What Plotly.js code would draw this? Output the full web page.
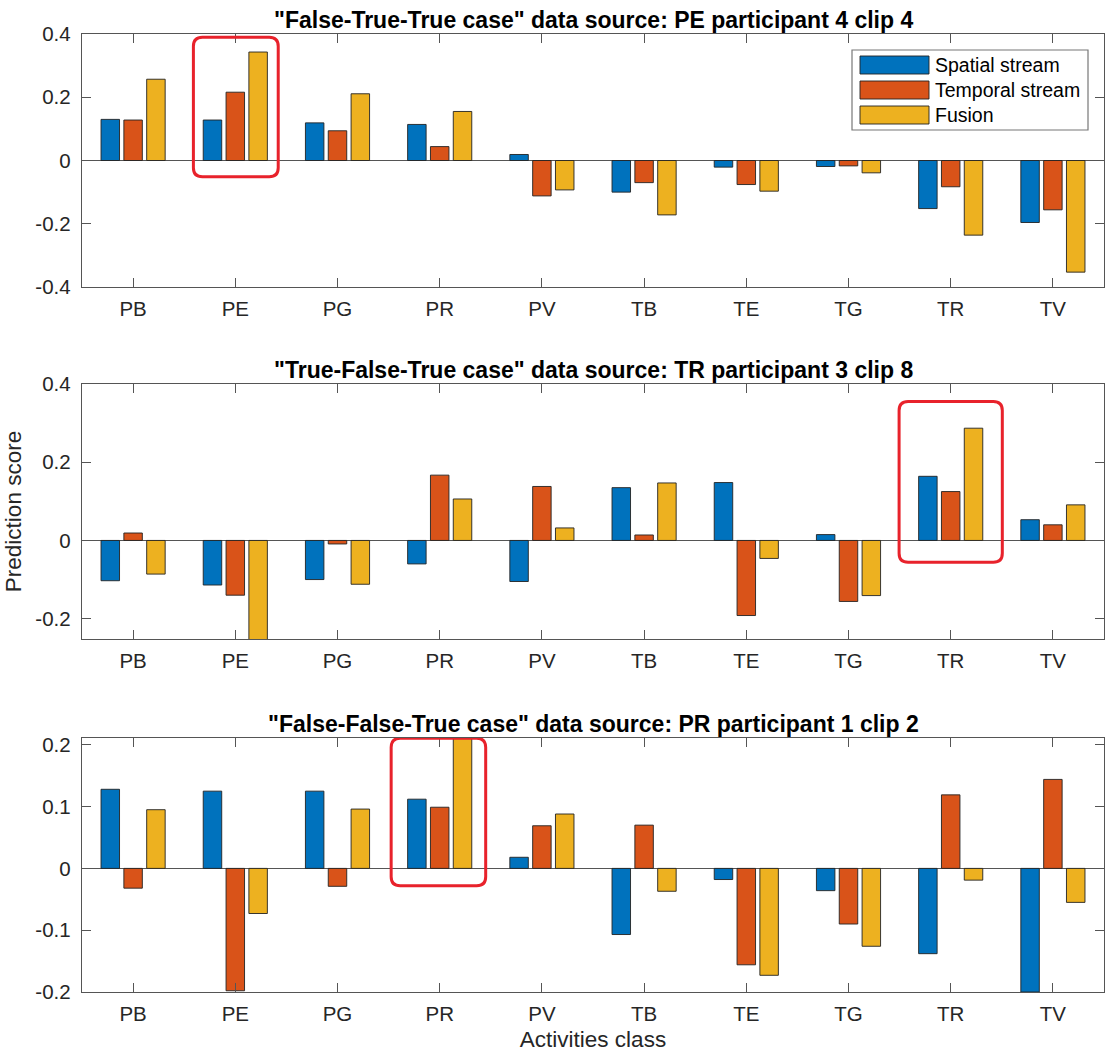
<!DOCTYPE html>
<html>
<head>
<meta charset="utf-8">
<script src="https://cdn.plot.ly/plotly-3.0.1.min.js"></script>
<style>html,body{margin:0;padding:0;background:#fff;}#chart{width:1105px;height:1057px;}</style>
</head>
<body>
<div id="chart"></div>
<script>
// ---- data ----
const categories = ['PB','PE','PG','PR','PV','TB','TE','TG','TR','TV'];
const seriesNames = ['Spatial stream','Temporal stream','Fusion'];
const panelTitles = [
  '"False-True-True case" data source: PE participant 4 clip 4',
  '"True-False-True case" data source: TR participant 3 clip 8',
  '"False-False-True case" data source: PR participant 1 clip 2'
];
const case1Spatial  = [0.130, 0.128, 0.119, 0.114, 0.019, -0.100, -0.021, -0.019, -0.152, -0.196];
const case1Temporal = [0.128, 0.216, 0.094, 0.044, -0.112, -0.070, -0.076, -0.017, -0.083, -0.156];
const case1Fusion   = [0.257, 0.343, 0.211, 0.155, -0.093, -0.172, -0.097, -0.039, -0.236, -0.353];
const case2Spatial  = [-0.103, -0.114, -0.100, -0.060, -0.105, 0.135, 0.148, 0.015, 0.164, 0.053];
const case2Temporal = [0.019, -0.140, -0.009, 0.167, 0.138, 0.014, -0.192, -0.156, 0.125, 0.040];
const case2Fusion   = [-0.086, -0.300, -0.112, 0.106, 0.032, 0.147, -0.046, -0.141, 0.287, 0.091];
const case3Spatial  = [0.128, 0.125, 0.125, 0.112, 0.018, -0.107, -0.018, -0.036, -0.138, -0.200];
const case3Temporal = [-0.032, -0.198, -0.029, 0.099, 0.069, 0.070, -0.156, -0.090, 0.119, 0.144];
const case3Fusion   = [0.095, -0.073, 0.096, 0.250, 0.088, -0.037, -0.173, -0.126, -0.019, -0.055];
const yTicks1 = [-0.4, -0.2, 0, 0.2, 0.4];
const yTicks2 = [-0.2, 0, 0.2, 0.4];
const yTicks3 = [-0.2, -0.1, 0, 0.1, 0.2];
const highlighted = ['PE', 'TR', 'PR'];

// ---- styling ----
const colors = ['#0072BD', '#D95319', '#EDB120'];
const FONT = '"Liberation Sans", Arial, Helvetica, sans-serif';
const AX = '#555555';
const W = 1105, H = 1057;
const mL = 82, mR = 1, mT = 34, mB = 65;
const plotW = W - mL - mR, plotH = H - mT - mB;
const pxY = py => (H - mB - py) / plotH;
const pxX = px => (px - mL) / plotW;
const domains = [[pxY(287), pxY(34)], [pxY(639), pxY(384)], [pxY(992), pxY(738)]];
const yRanges = [[-0.4, 0.4], [-0.252, 0.4], [-0.2, 0.211]];
const yTickSets = [yTicks1, yTicks2, yTicks3];
const xIdx = categories.map((c, i) => i);

const panels = [
  [case1Spatial, case1Temporal, case1Fusion],
  [case2Spatial, case2Temporal, case2Fusion],
  [case3Spatial, case3Temporal, case3Fusion]
];

const fmt = v => (v === 0 ? '0' : String(v).replace('\u2212', '-'));

const traces = [];
panels.forEach((series, p) => {
  series.forEach((vals, s) => {
    traces.push({
      type: 'bar', x: xIdx, y: vals, name: seriesNames[s],
      xaxis: p === 0 ? 'x' : 'x' + (p + 1), yaxis: p === 0 ? 'y' : 'y' + (p + 1),
      marker: {color: colors[s], line: {color: '#222222', width: 0.9}},
      showlegend: false, hoverinfo: 'skip'
    });
  });
});

const layout = {
  width: W, height: H,
  margin: {l: mL, r: mR, t: mT, b: mB},
  paper_bgcolor: '#ffffff', plot_bgcolor: '#ffffff',
  font: {family: FONT, size: 20, color: '#262626'},
  barmode: 'group', bargap: 0.33, bargroupgap: 0.19,
  showlegend: false,
  shapes: [], annotations: []
};

for (let p = 0; p < 3; p++) {
  const sfx = p === 0 ? '' : String(p + 1);
  layout['xaxis' + sfx] = {
    anchor: 'y' + sfx, domain: [0, 1], range: [-0.5, 9.5],
    tickmode: 'array', tickvals: xIdx, ticktext: categories,
    ticks: 'inside', ticklen: 9, tickwidth: 1, tickcolor: AX,
    showline: true, linecolor: AX, linewidth: 1.2, mirror: 'allticks',
    showgrid: false, zeroline: false, fixedrange: true,
    tickfont: {size: 20.5, color: '#262626', family: FONT}, ticklabelstandoff: 3
  };
  layout['yaxis' + sfx] = {
    anchor: 'x' + sfx, domain: domains[p], range: yRanges[p],
    tickmode: 'array', tickvals: yTickSets[p], ticktext: yTickSets[p].map(fmt),
    ticks: 'inside', ticklen: 9, tickwidth: 1, tickcolor: AX,
    showline: true, linecolor: AX, linewidth: 1.2, mirror: 'allticks',
    showgrid: false, zeroline: true, zerolinecolor: AX, zerolinewidth: 1.2,
    fixedrange: true,
    tickfont: {size: 20.5, color: '#262626', family: FONT}, ticklabelstandoff: 6
  };
  layout.annotations.push({
    xref: 'paper', yref: 'paper', x: 0.5, y: domains[p][1], yanchor: 'bottom', yshift: -1,
    text: '<b>' + panelTitles[p] + '</b>', showarrow: false,
    font: {size: 23, color: '#000000', family: FONT}
  });
}
layout.yaxis2.title = {text: 'Prediction score', font: {size: 22.5, color: '#262626', family: FONT}, standoff: 7};
layout.xaxis3.title = {text: 'Activities class', font: {size: 22.5, color: '#262626', family: FONT}, standoff: 7};

// ---- red highlight boxes (rounded) ----
function roundedPath(x0, x1, y0, y1, rx, ry) {
  return 'M' + (x0 + rx) + ',' + y1 + ' L' + (x1 - rx) + ',' + y1 +
    ' Q' + x1 + ',' + y1 + ' ' + x1 + ',' + (y1 - ry) +
    ' L' + x1 + ',' + (y0 + ry) + ' Q' + x1 + ',' + y0 + ' ' + (x1 - rx) + ',' + y0 +
    ' L' + (x0 + rx) + ',' + y0 + ' Q' + x0 + ',' + y0 + ' ' + x0 + ',' + (y0 + ry) +
    ' L' + x0 + ',' + (y1 - ry) + ' Q' + x0 + ',' + y1 + ' ' + (x0 + rx) + ',' + y1 + ' Z';
}
const boxSpecs = [
  {dx0: -0.41, dx1: 0.42, y0: -0.051, y1: 0.39},
  {dx0: -0.505, dx1: 0.505, y0: -0.056, y1: 0.355},
  {dx0: -0.475, dx1: 0.45, y0: -0.028, y1: 0.2105}
];
boxSpecs.forEach((b, p) => {
  const sfx = p === 0 ? '' : String(p + 1);
  const ci = categories.indexOf(highlighted[p]);
  const pxPerUnitY = (domains[p][1] - domains[p][0]) * plotH / (yRanges[p][1] - yRanges[p][0]);
  const rx = 9 / (plotW / 10), ry = 9 / pxPerUnitY;
  layout.shapes.push({
    type: 'path', xref: 'x' + sfx, yref: 'y' + sfx,
    path: roundedPath(ci + b.dx0, ci + b.dx1, b.y0, b.y1, rx, ry),
    line: {color: '#E8222B', width: 3}, fillcolor: 'rgba(0,0,0,0)', layer: 'above'
  });
});

// ---- MATLAB-style legend (top panel) ----
layout.shapes.push({
  type: 'rect', xref: 'paper', yref: 'paper',
  x0: pxX(852), x1: pxX(1088), y0: pxY(130), y1: pxY(50),
  line: {color: '#777777', width: 1.2}, fillcolor: '#ffffff', layer: 'above'
});
const rowCenters = [65, 90, 115];
seriesNames.forEach((name, s) => {
  layout.shapes.push({
    type: 'rect', xref: 'paper', yref: 'paper',
    x0: pxX(860), x1: pxX(929), y0: pxY(rowCenters[s] + 9), y1: pxY(rowCenters[s] - 9),
    line: {color: '#222222', width: 0.9}, fillcolor: colors[s], layer: 'above'
  });
  layout.annotations.push({
    xref: 'paper', yref: 'paper', x: pxX(933), y: pxY(rowCenters[s]),
    xanchor: 'left', yanchor: 'middle', showarrow: false,
    text: name, font: {size: 19.5, color: '#000000', family: FONT}
  });
});

Plotly.newPlot('chart', traces, layout, {displayModeBar: false, staticPlot: true});
</script>
</body>
</html>
